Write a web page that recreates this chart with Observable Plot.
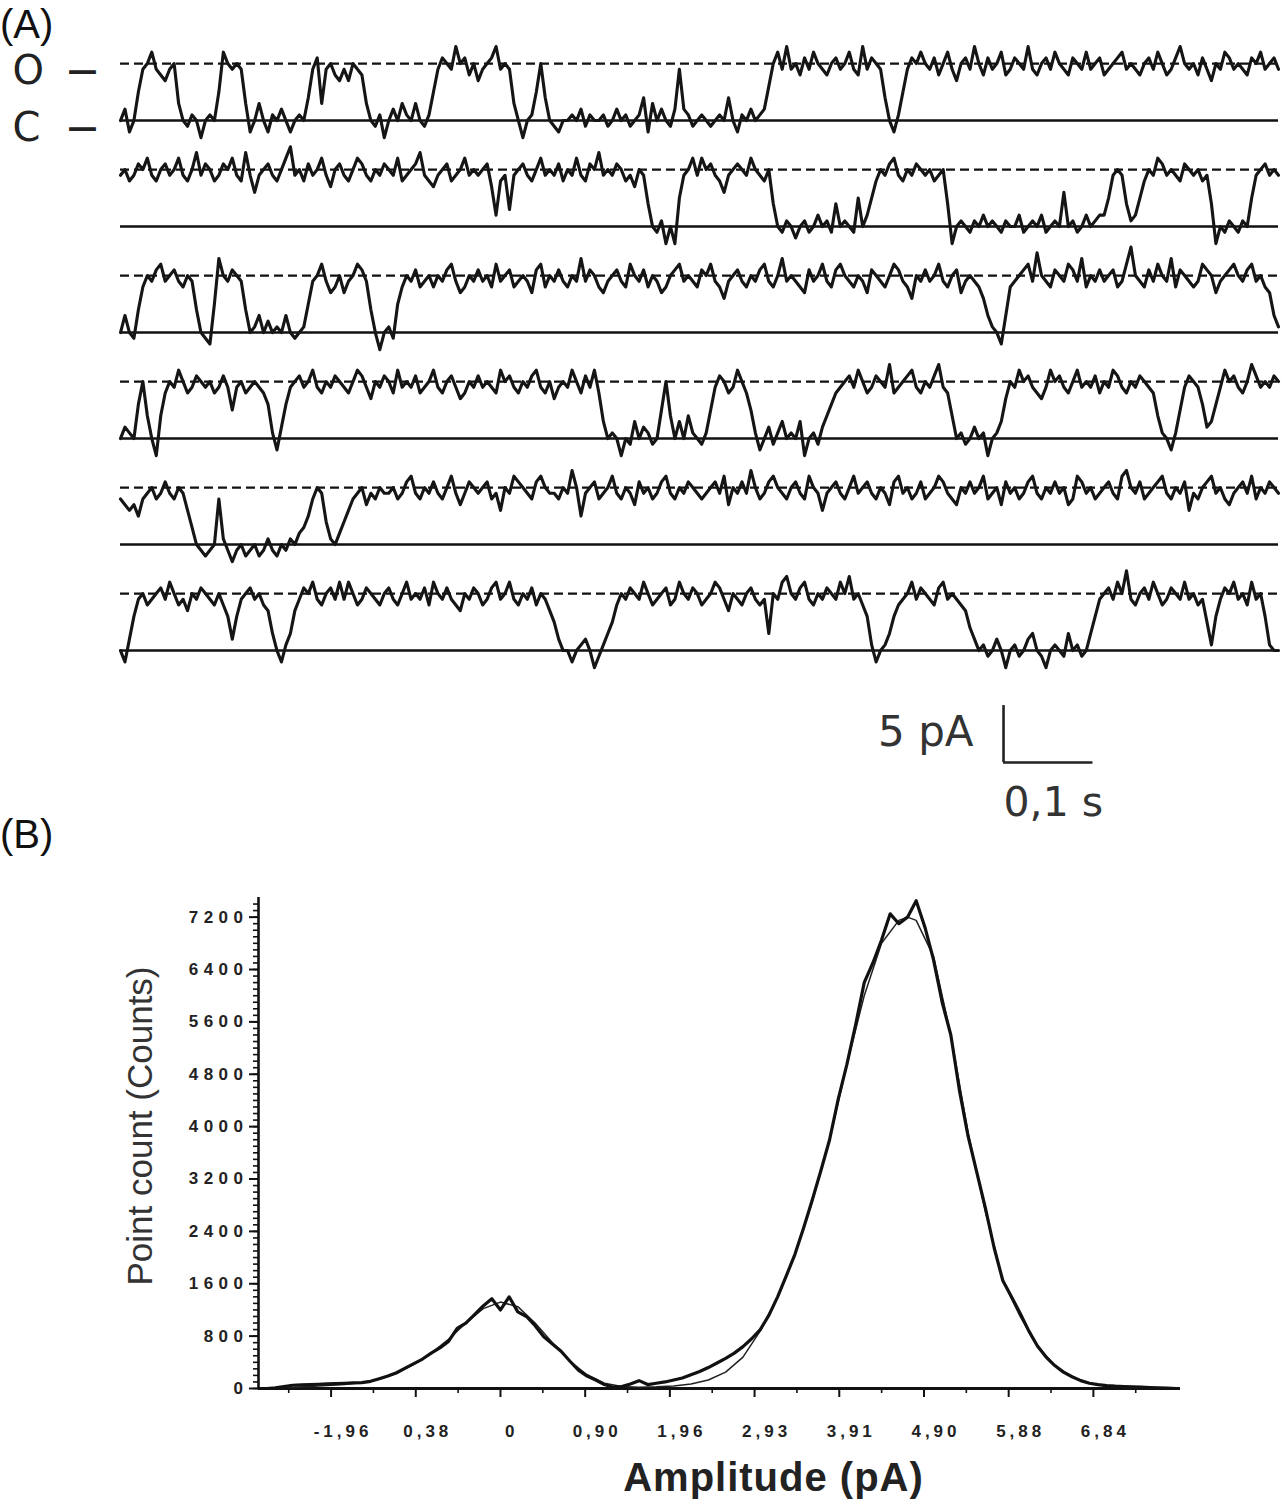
<!DOCTYPE html>
<html><head><meta charset="utf-8">
<script src="https://cdn.jsdelivr.net/npm/d3@7"></script>
<script src="https://cdn.jsdelivr.net/npm/@observablehq/plot@0.6"></script>
<style>
body{margin:0;background:#fff;}
#wrap{position:relative;width:1285px;height:1503px;overflow:hidden;background:#fff;font-family:"Liberation Sans",Arial,sans-serif;}
.panel{position:absolute;left:0;font-size:40px;color:#111;line-height:1.1;}
#plotA{position:absolute;left:0;top:0;}
#plotB{position:absolute;left:0;top:830px;}
</style></head><body>
<div id="wrap">
<div id="plotA"></div><div id="plotB"></div>
<div class="panel" style="top:2px">(A)</div>
<div class="panel" style="top:812px">(B)</div>
</div>
<script>
// ---------- Panel A: single-channel current traces ----------
// each character = one sample (every 5 ms); level = (char - 'e') * 0.5 pA
const sampleDt = 0.005;
const stepPA = 0.5;
const openLevel = 5;
const closedLevel = 0;
const trace1 = "egcejnoqnm lnohedfebe fejqononhc ehecfegece feinphnoml nlonmhedfb egehfehedf jnponropmo lnoprnonhe befjoiedce efegdfeefd egefdefich egedgngfde fedefeiecf egefgkoqnr nompnqonmo pnoqnmrnpo niecfjnpoq onpmoqnlop nrompnoqmn ponrnmopnq onmponqnop mnopqnonmo pnqomnpron ompnlonqpn onmpoqnopn";
const trace2 = "nomnpoqnmo pnoqnmornp omnpoqnmrn knopnmoqsn ompnoqnlop nmoqpnmonp onqmnoprnm lnopmnoqno noplgmnhno pnmoqnonpm onqnmporno npomnlonie dfbebjnoqn qopnmknopo nqonmoiedf ecefdegefd iefedjegjm onpqnmonpo nomnoibefe dfegefedfe egdefegdef ekefdegefg gjnonifgjm onqpnonmpo nomnibedfe dfejnopnon";
const trace3 = "ehedimonpq nopnmonied cjronponie fhegefehed efjnoqnlmo lnoqpniebe fdjmonpmno monpqnlmon pnomqnopmn onlpqmonpn monrnpomln opnmqonpmo nlmopqnonm poqnmknopn monpqnmorn onmlpnoqnm pqonmonlpo nmoqpnmkon pnoqnmopln onmkhfechm nopqnsonmp onqpnrmonp nopmnqtonm pnqonrmpon mnqpolnopq onpqnomlhf";
const trace4 = "egfekoiebi monqomnpon omnpnjnomn onmkfcgkno pnoqnmonpo nmoqpnlonp omqnonpmno qnmopnlmon pnonmqopnm onpqnmolno nqompnqmhe febedhegfd ejoieheife dfjnpomnqo mjfcegdfhe fehbefdgik mnopnqomnp onrmnopqnm onprnmiefd egefbefhlo nqopnmlnqo pnmoqnonpm onqpnmonpo nmifecfjnp onkghknqop nmorpnonpo";
const trace5 = "mlkljmnomn pnmonkhedc demfdbdecd ecdfdcedfe ghjmonifeg ikmnolnmon nomnpqnmon pnmoqnlnpo nopmnkonqp onmpqonnmo nrojnopmno qnmonlpnom npqnmonpon mnopnqlonp nromnpqonm opnmqonkno pnmoqnopnm onlpqnomnp mnoqpnmlon pnoqmnolpn omnpqnmonp nolmqpnomn opnmqronpm nopqnmonpk nmopqnomln opnqmonpon";
const trace6 = "ecgknomnop nqomnlonpo nmomkgknop nomlhecfhl npoqnmopnq nqomnponmo pnmoqnonpm qonpnmlonp omnpqnoqnm onpmonljge ecefgebdfh jmonponqom nopmnqonpo mnoqpnlonm opnmnhonqr onpqnmonpo nqornomkfc efhkmnoqnp onmpqnonml igefdegebe fdeghedbef edhefdehkn opnqosnmop nqomnponqn omnjfknpoq nomqnokfee";
const traces = [trace1, trace2, trace3, trace4, trace5, trace6];
const rowIds = [1, 2, 3, 4, 5, 6];
const stateLabels = [{label: "O", level: openLevel}, {label: "C", level: closedLevel}];
const scaleBar = [{t: 0.9875, dt: 0.1, dI: 5, row: 7}];

// ---------- Panel B: amplitude histogram ----------
const histX = [-2.7,-2.6,-2.5,-2.4,-2.3,-2.2,-2.1,-2.0,-1.9,-1.8,-1.7,-1.6,-1.5,-1.4,-1.3,-1.2,-1.1,-1.0,-0.9,-0.8,-0.7,-0.6,-0.5,-0.4,-0.3,-0.2,-0.1,0.0,0.1,0.2,0.3,0.4,0.5,0.6,0.7,0.8,0.9,1.0,1.1,1.2,1.3,1.4,1.5,1.6,1.7,1.8,1.9,2.0,2.1,2.2,2.3,2.4,2.5,2.6,2.7,2.8,2.9,3.0,3.1,3.2,3.3,3.4,3.5,3.6,3.7,3.8,3.9,4.0,4.1,4.2,4.3,4.4,4.5,4.6,4.7,4.8,4.9,5.0,5.1,5.2,5.3,5.4,5.5,5.6,5.7,5.8,5.9,6.0,6.1,6.2,6.3,6.4,6.5,6.6,6.7,6.8,6.9,7.0,7.1,7.2,7.3,7.4,7.5,7.6,7.7,7.8];
const histY = [0,10,30,50,55,60,65,70,75,80,85,90,110,150,190,240,310,380,450,540,620,720,920,1000,1130,1260,1370,1200,1400,1170,1100,960,790,680,570,420,280,190,130,60,20,30,70,120,60,80,100,130,160,210,260,320,390,460,540,640,760,900,1120,1400,1720,2050,2450,2880,3330,3800,4420,4950,5550,6200,6500,6850,7250,7100,7200,7450,7050,6550,5900,5400,4550,3850,3300,2750,2150,1650,1400,1150,880,650,480,350,250,180,120,80,60,45,35,30,25,20,15,10,5,0];
const fitX = [-2.6,-2.4,-2.2,-2.0,-1.8,-1.6,-1.4,-1.2,-1.0,-0.8,-0.6,-0.4,-0.2,0,0.2,0.4,0.6,0.8,1.0,1.2,1.4,1.6,1.8,2.0,2.2,2.4,2.6,2.8,3.0,3.2,3.4,3.6,3.8,4.0,4.2,4.4,4.6,4.7,4.8,5.0,5.2,5.4,5.6,5.8,6.0,6.2,6.4,6.6,6.8,7.0,7.2,7.4,7.6];
const fitY = [10,20,30,45,60,90,140,230,370,540,750,1000,1220,1320,1250,1000,700,420,210,80,30,20,25,40,70,130,250,480,880,1400,2050,2850,3800,4950,6000,6800,7150,7200,7150,6600,5400,3900,2700,1650,1100,650,350,180,80,35,15,5,0];
const xTicks = [-1.956,-0.978,0,0.978,1.956,2.934,3.912,4.890,5.868,6.846];
const xTickLabels = ["-1,96","0,38","0","0,90","1,96","2,93","3,91","4,90","5,88","6,84"];
const yTicks = [0,800,1600,2400,3200,4000,4800,5600,6400,7200];
const yTickLabels = ["0","800","1600","2400","3200","4000","4800","5600","6400","7200"];
const xDomain = [-2.794, 7.852];
const yDomain = [0, 7500];
const xTitle = "Amplitude (pA)";
const yTitle = "Point count (Counts)";

// ---------- build ----------
const traceData = traces.flatMap((s, r) =>
  [...s.replace(/\s/g, "")].map((ch, i) => ({row: r + 1, t: i * sampleDt, i: (ch.charCodeAt(0) - 101) * stepPA})));
const tEnd = d3.max(traceData, d => d.t);

const plotA = Plot.plot({
  width: 1285, height: 830,
  marginLeft: 120, marginRight: 7, marginTop: 38, marginBottom: 50,
  x: {domain: [0, tEnd], axis: null},
  y: {domain: [-2.1, 7.2], axis: null},
  fy: {domain: [1, 2, 3, 4, 5, 6, 7], padding: 0, axis: null},
  style: {fontFamily: "DejaVu Sans, sans-serif", background: "white", overflow: "visible"},
  marks: [
    Plot.ruleY(rowIds, {y: () => openLevel, fy: d => d, stroke: "#111", strokeWidth: 2.4, strokeDasharray: "9,5"}),
    Plot.ruleY(rowIds, {y: () => closedLevel, fy: d => d, stroke: "#111", strokeWidth: 2.6}),
    Plot.line(traceData, {x: "t", y: "i", z: "row", fy: "row", stroke: "#151515", strokeWidth: 3.1, strokeLinejoin: "round"}),
    Plot.text(stateLabels, {y: "level", fy: () => 1, text: "label", frameAnchor: "left", dx: -108, dy: 8, textAnchor: "start", fontSize: 40, fill: "#222"}),
    Plot.text(stateLabels, {y: "level", fy: () => 1, text: () => "—", frameAnchor: "left", dx: -38, dy: 7, textAnchor: "middle", fontSize: 30, fontWeight: "bold", fill: "#222"}),
    Plot.ruleX(scaleBar, {x: "t", y1: () => 0, y2: "dI", fy: "row", dy: 6, stroke: "#222", strokeWidth: 2.6}),
    Plot.ruleY(scaleBar, {y: () => 0, x1: "t", x2: d => d.t + d.dt, fy: "row", dy: 6, stroke: "#222", strokeWidth: 2.6}),
    Plot.text(scaleBar, {x: "t", y: d => d.dI / 2, fy: "row", text: d => `${d.dI} pA`, dx: -30, dy: 4, textAnchor: "end", fontSize: 42, fill: "#333"}),
    Plot.text(scaleBar, {x: "t", y: () => 0, fy: "row", text: d => `${String(d.dt).replace(".", ",")} s`, dy: 46, textAnchor: "start", fontSize: 41, fill: "#333"})
  ]
});
document.getElementById("plotA").appendChild(plotA);

const xMinor = d3.pairs(xTicks).map(([a, b]) => (a + b) / 2).concat([xTicks[0] - 0.489, xTicks[xTicks.length - 1] + 0.489]);
const yMinor = d3.range(0, 7500, 100);
const hist = histX.map((x, k) => ({x, y: histY[k]}));
const fit = fitX.map((x, k) => ({x, y: fitY[k]}));

const plotB = Plot.plot({
  width: 1285, height: 673,
  marginLeft: 258, marginRight: 105, marginTop: 67, marginBottom: 115,
  x: {domain: xDomain, label: null},
  y: {domain: yDomain, label: null},
  style: {fontFamily: "Liberation Sans, Arial, sans-serif", background: "white", overflow: "visible", color: "#111"},
  marks: [
    Plot.axisY(yMinor, {tickSize: 5, tickFormat: () => "", strokeWidth: 1.6, label: null}),
    Plot.axisY(yTicks, {tickSize: 9, tickFormat: () => "", strokeWidth: 2, label: null}),
    Plot.axisX(xMinor, {tickSize: 5, tickFormat: () => "", strokeWidth: 1.6, label: null}),
    Plot.axisX(xTicks, {tickSize: 9, tickFormat: () => "", strokeWidth: 2, label: null}),
    Plot.text(yTicks, {y: d => d, text: (d, k) => yTickLabels[k], frameAnchor: "left", dx: -10, textAnchor: "end", lineAnchor: "middle", fontSize: 17, fontWeight: "bold", fill: "#222"}),
    Plot.text(xTicks, {x: d => d, text: (d, k) => xTickLabels[k], frameAnchor: "bottom", dx: 12, dy: 43, textAnchor: "middle", lineAnchor: "middle", fontSize: 17, fontWeight: "bold", fill: "#222"}),
    Plot.ruleX([xDomain[0]], {stroke: "#111", strokeWidth: 2.6}),
    Plot.ruleY([0], {stroke: "#111", strokeWidth: 2.8}),
    Plot.line(fit, {x: "x", y: "y", stroke: "#222", strokeWidth: 1.5}),
    Plot.line(hist, {x: "x", y: "y", stroke: "#111", strokeWidth: 3.2, strokeLinejoin: "round"}),
    Plot.text([yTitle], {text: d => d, frameAnchor: "left", rotate: -90, dx: -118, dy: -17, textAnchor: "middle", lineAnchor: "middle", fontSize: 35, fill: "#333"}),
    Plot.text([xTitle], {text: d => d, frameAnchor: "bottom", dx: 54, dy: 90, textAnchor: "middle", lineAnchor: "middle", fontSize: 40, fontWeight: "bold", fill: "#222"})
  ]
});
document.getElementById("plotB").appendChild(plotB);

// tick labels in the reference are widely spaced
const ySet = new Set(yTickLabels), xSet = new Set(xTickLabels);
d3.select(plotB).selectAll("text").filter(function () { return ySet.has(this.textContent); })
  .style("letter-spacing", "5.5px");
d3.select(plotB).selectAll("text").filter(function () { return xSet.has(this.textContent) && !ySet.has(this.textContent); })
  .style("letter-spacing", "4px");
d3.select(plotB).selectAll("text").filter(function () { return this.textContent === xTitle; })
  .style("letter-spacing", "1px");
</script>
</body></html>
